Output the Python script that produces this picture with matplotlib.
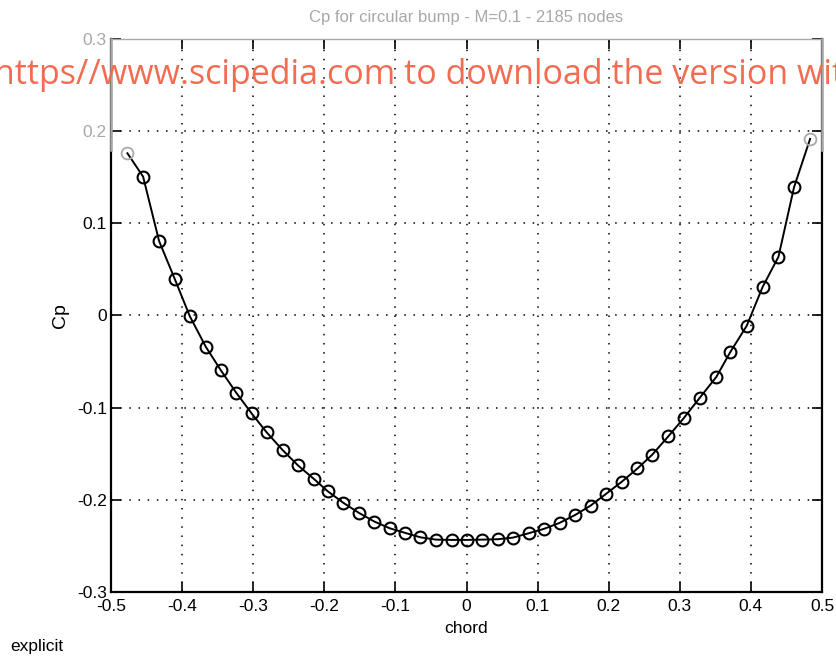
"""Cp distribution over a circular bump, M=0.1, 2185 nodes (explicit)"""

from matplotlib import pyplot as plt
import numpy as np

plt.rcParams['font.family'] = ['Liberation Sans', 'DejaVu Sans']

chord = [-0.4769, -0.4549, -0.4324, -0.4103, -0.3892, -0.3666, -0.3455, -0.3240,
         -0.3023, -0.2811, -0.2582, -0.2370, -0.2149, -0.1952, -0.1732, -0.1515,
         -0.1296, -0.1079, -0.0863, -0.0648, -0.0428, -0.0211, 0.0, 0.0217,
         0.0437, 0.0654, 0.0873, 0.1090, 0.1310, 0.1531, 0.1746, 0.1963,
         0.2183, 0.2404, 0.2611, 0.2837, 0.3056, 0.3282, 0.3513, 0.3710,
         0.3940, 0.4165, 0.4387, 0.4606, 0.4832]
cp = [0.176, 0.1507, 0.0808, 0.0395, -0.0008, -0.0341, -0.0595, -0.0837,
      -0.1062, -0.1268, -0.1464, -0.1627, -0.1772, -0.1907, -0.2033, -0.2141,
      -0.2236, -0.2309, -0.2359, -0.2407, -0.2432, -0.2435, -0.2435, -0.2432,
      -0.2428, -0.2410, -0.2363, -0.2315, -0.2250, -0.2163, -0.2062, -0.1935,
      -0.1804, -0.1660, -0.1511, -0.1312, -0.1113, -0.0891, -0.0667, -0.0396,
      -0.0113, 0.0311, 0.0637, 0.1391, 0.1916]

xticks = [-0.5, -0.4, -0.3, -0.2, -0.1, 0, 0.1, 0.2, 0.3, 0.4, 0.5]
yticks = [-0.3, -0.2, -0.1, 0, 0.1, 0.2, 0.3]
faded = '#a8a8a8'

fig = plt.figure(figsize=(8.36, 6.59), dpi=100)
ax = fig.add_axes([0.1328, 0.1017, 0.8505, 0.8391])

ax.plot(chord, cp, color='black', lw=1.4, zorder=3)
ax.plot(chord[1:-1], cp[1:-1], ls='none', marker='o', ms=8.5, mfc='none',
        mec='black', mew=1.5, zorder=4)
# scan is faded at the top: first and last points come out grey
ax.plot([chord[0], chord[-1]], [cp[0], cp[-1]], ls='none', marker='o', ms=8.5,
        mfc='none', mec=faded, mew=1.3, zorder=4)

ax.set_xlim(-0.5, 0.5)
ax.set_ylim(-0.3, 0.3)
ax.set_xticks(xticks)
ax.set_yticks(yticks)
ax.set_xticklabels(['%g' % t for t in xticks])
ax.set_yticklabels(['%g' % t for t in yticks])

ax.grid(True, color='black', ls=(0, (1, 5)), lw=1.1)
ax.tick_params(direction='in', top=True, right=True, length=7, width=1.2,
               labelsize=12.5, colors='black')
ax.tick_params(axis='x', pad=5)
ax.tick_params(axis='y', pad=3)
for lab in ax.get_yticklabels()[-2:]:
    lab.set_color(faded)
for s in ['left', 'right', 'bottom']:
    ax.spines[s].set_linewidth(1.6)
ax.spines['top'].set_color(faded)
ax.spines['top'].set_linewidth(1.0)
for xs in [0, 1]:
    ax.plot([xs, xs], [0.8, 1.0], transform=ax.transAxes, color=faded,
            lw=1.8, clip_on=False, zorder=5)

ax.set_xlabel('chord', fontsize=12.5, labelpad=5)
ax.set_ylabel('Cp', fontsize=14, labelpad=6)
ax.set_title('Cp for circular bump - M=0.1 - 2185 nodes', fontsize=12,
             color=faded, pad=12)

fig.text(0.012, 0.008, 'explicit', fontsize=12.5, ha='left', va='bottom')

fig.text(-0.007, 0.873, 'https//www.scipedia.com to download the version wit',
         fontsize=24.5, color='#f26c52', family=['Open Sans', 'DejaVu Sans'],
         ha='left', va='baseline', zorder=10)

fig.savefig('out.png', dpi=100)
